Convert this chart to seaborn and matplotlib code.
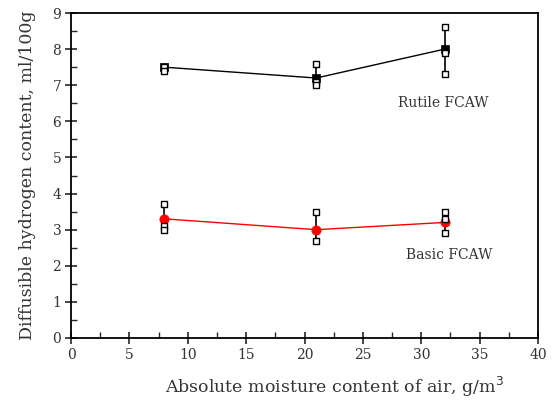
import numpy as np
import pandas as pd
import matplotlib
matplotlib.use("Agg")
import matplotlib.pyplot as plt
import seaborn as sns
from matplotlib.ticker import MultipleLocator

# Data
moisture = [8, 21, 32]
rutile_mean = [7.5, 7.2, 8.0]
basic_mean = [3.3, 3.0, 3.2]
rutile_x = [8, 8, 21, 21, 21, 32, 32, 32]
rutile_pts = [7.5, 7.4, 7.6, 7.1, 7.0, 8.6, 7.9, 7.3]
basic_x = [8, 8, 8, 21, 21, 32, 32, 32]
basic_pts = [3.7, 3.1, 3.0, 3.5, 2.7, 3.5, 3.3, 2.9]
xticks = [0, 5, 10, 15, 20, 25, 30, 35, 40]
yticks = [0, 1, 2, 3, 4, 5, 6, 7, 8, 9]

sns.set_style("white")
plt.rcParams['font.family'] = ['DejaVu Serif']
txtc = '#333333'

fig = plt.figure(figsize=(5.53, 4.03), dpi=100)
ax = fig.add_axes([0.1284, 0.1613, 0.8445, 0.8064])

mean_df = pd.DataFrame({'x': moisture, 'r': rutile_mean, 'b': basic_mean})
rp = pd.DataFrame({'x': rutile_x, 'y': rutile_pts})
bp = pd.DataFrame({'x': basic_x, 'y': basic_pts})

# range bars
for df, mdf in ((rp, rutile_mean), (bp, basic_mean)):
    for i, xv in enumerate(moisture):
        vals = list(df.loc[df.x == xv, 'y']) + [mdf[i]]
        ax.vlines(xv, min(vals), max(vals), color='black', lw=1.2, zorder=2)

sns.lineplot(data=mean_df, x='x', y='r', ax=ax, color='black', lw=1.0, zorder=3)
sns.lineplot(data=mean_df, x='x', y='b', ax=ax, color='red', lw=1.0, zorder=3)
sns.scatterplot(data=mean_df, x='x', y='r', ax=ax, marker='s', s=36, color='black',
                edgecolor='black', linewidth=0.5, zorder=4)
sns.scatterplot(data=mean_df, x='x', y='b', ax=ax, marker='o', s=45, color='red',
                edgecolor='red', linewidth=0.5, zorder=4)
sns.scatterplot(data=rp, x='x', y='y', ax=ax, marker='s', s=22, facecolor='white',
                edgecolor='black', linewidth=1.0, zorder=5)
sns.scatterplot(data=bp, x='x', y='y', ax=ax, marker='s', s=22, facecolor='white',
                edgecolor='black', linewidth=1.0, zorder=5)

ax.set_xlim(0, 40)
ax.set_ylim(0, 9)
ax.set_xticks(xticks)
ax.set_yticks(yticks)
ax.xaxis.set_minor_locator(MultipleLocator(2.5))
ax.yaxis.set_minor_locator(MultipleLocator(0.5))
ax.tick_params(which='major', direction='inout', length=8, width=1.2,
               labelsize=10, labelcolor=txtc, bottom=True, left=True, top=False, right=False, pad=3)
ax.tick_params(which='minor', direction='in', length=4, width=1.0,
               bottom=True, left=True, top=False, right=False)
for s in ax.spines.values():
    s.set_linewidth(1.3)
    s.set_color('black')

ax.set_xlabel('Absolute moisture content of air, g/m$^3$', fontsize=12.5, color=txtc)
ax.xaxis.set_label_coords(0.563, -0.115)
ax.set_ylabel('Diffusible hydrogen content, ml/100g', fontsize=12.5, color=txtc, labelpad=12)

ax.text(31.9, 6.5, 'Rutile FCAW', fontsize=10, color=txtc, ha='center', va='center')
ax.text(32.4, 2.3, 'Basic FCAW', fontsize=10, color=txtc, ha='center', va='center')

fig.savefig('out.png', dpi=100)
